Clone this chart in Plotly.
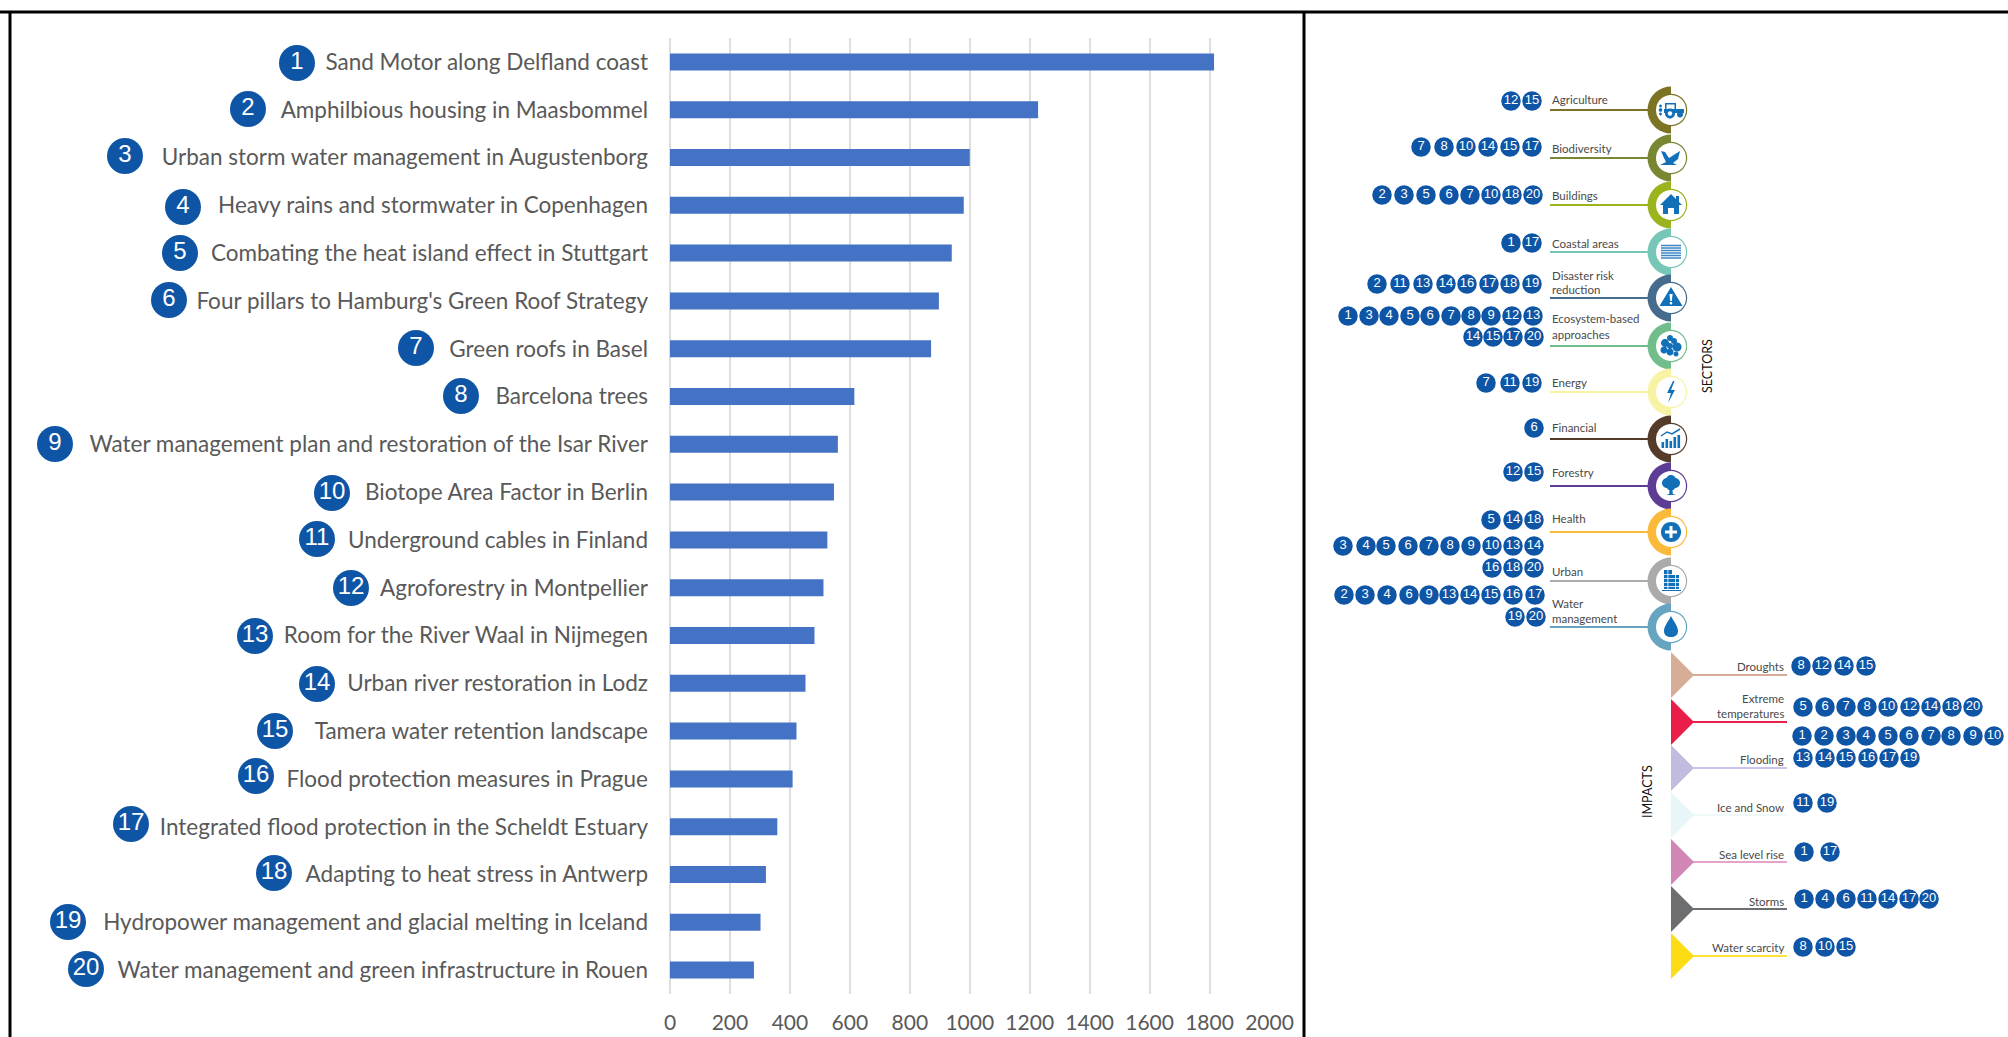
import numpy as np
import plotly.graph_objects as go

# ---------- data ----------
PROJECTS = [
    "Sand Motor along Delfland coast", "Amphilbious housing in Maasbommel",
    "Urban storm water management in Augustenborg", "Heavy rains and stormwater in Copenhagen",
    "Combating the heat island effect in Stuttgart", "Four pillars to Hamburg's Green Roof Strategy",
    "Green roofs in Basel", "Barcelona trees",
    "Water management plan and restoration of the Isar River", "Biotope Area Factor in Berlin",
    "Underground cables in Finland", "Agroforestry in Montpellier",
    "Room for the River Waal in Nijmegen", "Urban river restoration in Lodz",
    "Tamera water retention landscape", "Flood protection measures in Prague",
    "Integrated flood protection in the Scheldt Estuary", "Adapting to heat stress in Antwerp",
    "Hydropower management and glacial melting in Iceland",
    "Water management and green infrastructure in Rouen",
]
VALUES = [1815, 1228, 1000, 980, 940, 897, 871, 615, 560, 547, 525, 512, 482, 452, 422, 409, 358, 320, 302, 280]
X_TICKS = list(range(0, 2001, 200))

SECTORS = ["Agriculture", "Biodiversity", "Buildings", "Coastal areas", "Disaster risk reduction",
           "Ecosystem-based approaches", "Energy", "Financial", "Forestry", "Health", "Urban", "Water management"]
SECTOR_ROWS = [
    [[12, 15]], [[7, 8, 10, 14, 15, 17]], [[2, 3, 5, 6, 7, 10, 18, 20]], [[1, 17]],
    [[2, 11, 13, 14, 16, 17, 18, 19]],
    [[1, 3, 4, 5, 6, 7, 8, 9, 12, 13], [14, 15, 17, 20]],
    [[7, 11, 19]], [[6]], [[12, 15]], [[5, 14, 18]],
    [[3, 4, 5, 6, 7, 8, 9, 10, 13, 14], [16, 18, 20]],
    [[2, 3, 4, 6, 9, 13, 14, 15, 16, 17], [19, 20]],
]
IMPACTS = ["Droughts", "Extreme temperatures", "Flooding", "Ice and Snow", "Sea level rise", "Storms", "Water scarcity"]
IMPACT_ROWS = [
    [[8, 12, 14, 15]], [[5, 6, 7, 8, 10, 12, 14, 18, 20]],
    [[1, 2, 3, 4, 5, 6, 7, 8, 9, 10], [13, 14, 15, 16, 17, 19]],
    [[11, 19]], [[1, 17]], [[1, 4, 6, 11, 14, 17, 20]], [[8, 10, 15]],
]

# ---------- layout (page pixels on the overlay axes) ----------
W, H = 2008, 1037
BLUE = "#0F55A6"
ICON = "#1170B8"
BADGE_X = [297, 248, 125, 183, 180, 169, 416, 461, 55, 332, 317, 351, 255, 317, 275, 256, 131, 274, 68, 86]
BADGE_Y = [63, 109, 156, 207, 253, 300, 348, 396, 444, 493, 539, 588, 636, 684, 731, 776, 824, 873, 922, 969]

SECTOR_Y = [110, 158, 205, 252, 298, 346, 392, 439, 486, 532, 581, 627]
SECTOR_COL = ["#7D7324", "#778732", "#9BB31D", "#76C7B7", "#456C8C", "#72BD8C", "#F8F3A4", "#553B2A",
              "#5C3C94", "#FBB93A", "#ABABAB", "#66A4BF"]
SECTOR_LABEL_LINES = [["Agriculture"], ["Biodiversity"], ["Buildings"], ["Coastal areas"],
                      ["Disaster risk", "reduction"], ["Ecosystem-based", "approaches"], ["Energy"], ["Financial"],
                      ["Forestry"], ["Health"], ["Urban"], ["Water", "management"]]
SECTOR_LABEL_Y = [[99], [148], [195], [243], [275, 289], [318, 334], [382], [427], [472], [518], [571], [603, 618]]
SECTOR_BADGE_Y = [[101], [147], [195], [243], [284], [316, 337], [383], [428], [472], [520], [546, 568], [595, 617]]
SECTOR_BADGE_X = [
    [[1511, 1532]], [[1421, 1444, 1466, 1488, 1510, 1532]],
    [[1382, 1404, 1426, 1449, 1470, 1491, 1512, 1533]], [[1511, 1532]],
    [[1377, 1400, 1423, 1446, 1467, 1489, 1510, 1532]],
    [[1348, 1369, 1389, 1410, 1430, 1451, 1471, 1491, 1512, 1533], [1473, 1493, 1513, 1534]],
    [[1486, 1510, 1532]], [[1534]], [[1513, 1534]], [[1491, 1513, 1534]],
    [[1343, 1366, 1386, 1408, 1429, 1450, 1471, 1492, 1513, 1534], [1492, 1513, 1534]],
    [[1344, 1365, 1387, 1409, 1429, 1449, 1470, 1491, 1513, 1535], [1515, 1536]],
]

IMPACT_Y = [675, 722, 768, 815, 862, 909, 956]
IMPACT_COL = ["#D8AD98", "#E91F49", "#BFBCE0", "#E8F5F9", "#D286B5", "#6C6E70", "#FCDD15"]
IMPACT_LINE_COL = ["#D8AD98", "#E91F49", "#C9C6EC", "#EEF8F8", "#E5A3CC", "#6C6E70", "#FCE33A"]
IMPACT_LABEL_LINES = [["Droughts"], ["Extreme", "temperatures"], ["Flooding"], ["Ice and Snow"], ["Sea level rise"],
                      ["Storms"], ["Water scarcity"]]
IMPACT_LABEL_Y = [[666], [698, 713], [759], [807], [854], [901], [947]]
IMPACT_BADGE_Y = [[666], [707], [736, 758], [803], [852], [899], [947]]
IMPACT_BADGE_X = [
    [[1801, 1822, 1844, 1866]], [[1803, 1825, 1846, 1867, 1888, 1910, 1931, 1952, 1973]],
    [[1802, 1824, 1846, 1866, 1888, 1909, 1931, 1951, 1973, 1994], [1803, 1825, 1846, 1868, 1889, 1910]],
    [[1803, 1827]], [[1804, 1830]], [[1804, 1825, 1846, 1867, 1888, 1909, 1929]], [[1803, 1825, 1846]],
]

fig = go.Figure()

# bars on real axes
fig.add_trace(go.Bar(y=PROJECTS, x=VALUES, orientation="h", width=0.355,
                     marker=dict(color="#4472C4", line=dict(width=0)), xaxis="x", yaxis="y", hoverinfo="skip"))

shapes, notes = [], []
REF = dict(xref="x2", yref="y2")


def poly(points, cx, cy, color, close=True):
    d = "M " + " L ".join(f"{cx + a:.2f},{cy + b:.2f}" for a, b in points) + (" Z" if close else "")
    shapes.append(dict(type="path", path=d, fillcolor=color if close else "rgba(0,0,0,0)",
                       line=dict(width=0 if close else 1.5, color=color), layer="below", **REF))


def disk(a, b, r, cx, cy, color, start=0.0, stop=360.0):
    t = np.radians(np.arange(start, stop + 1, 10))
    poly(list(zip(a + r * np.cos(t), b + r * np.sin(t))), cx, cy, color)


def rect(x0, y0, x1, y1, cx, cy, color):
    poly([(x0, y0), (x1, y0), (x1, y1), (x0, y1)], cx, cy, color)


def icon(kind, cx, cy):
    if kind == 0:  # tractor
        disk(-10.5, 0, 1.8, cx, cy, ICON); disk(-10.5, -4, 1.4, cx, cy, ICON); disk(-10.5, 4, 1.4, cx, cy, ICON)
        rect(-6, -7, 5, -5.5, cx, cy, ICON); rect(-6, -7, -4.5, 0, cx, cy, ICON); rect(3.5, -7, 5, 0, cx, cy, ICON)
        rect(-7, -1, 13, 3, cx, cy, ICON)
        disk(-1, 3.5, 5, cx, cy, ICON); disk(-1, 3.5, 2.2, cx, cy, "white"); disk(9, 4.5, 3, cx, cy, ICON)
    elif kind == 1:  # bird
        poly([(-10, -7), (-6, -6), (-2, 0), (9, -7), (7, 1), (2, 5), (6, 7), (-11, 7), (-5, 4), (-7, 0)], cx, cy, ICON)
    elif kind == 2:  # house
        rect(5, -9, 8, -3, cx, cy, ICON)
        poly([(0, -11), (11, 0), (8, 0), (8, 9), (3, 9), (3, 3), (-3, 3), (-3, 9), (-8, 9), (-8, 0), (-11, 0)], cx, cy, ICON)
    elif kind == 3:  # waves
        for b in (-6.5, -4, -1.5, 1, 3.5, 6):
            poly([(-10, b), (10, b)], cx, cy, "#3C86C6", close=False)
    elif kind == 4:  # warning
        poly([(0, -11), (11.5, 8), (-11.5, 8)], cx, cy, ICON)
        poly([(-1.6, -4), (1.6, -4), (0.8, 3), (-0.8, 3)], cx, cy, "white"); disk(0, 5.2, 1.3, cx, cy, "white")
    elif kind == 5:  # ecosystem
        for a, b, r in [(-6, -3, 4), (-1, -8, 3), (3, -5, 3), (6, 1, 4.5), (-7, 4, 3.5), (-1, 6, 3.5), (5, 8, 2.5), (-1, 0, 3)]:
            disk(a, b, r, cx, cy, ICON)
    elif kind == 6:  # bolt
        poly([(2, -11), (-4, 1), (0, 1), (-3, 11), (4, -2), (0, -2), (3.5, -11)], cx, cy, ICON)
    elif kind == 7:  # finance
        for a, b in [(-9.5, 3), (-5.5, 0), (-1.5, 2), (2.5, -2), (6.5, -4)]:
            rect(a, b, a + 2.6, 9, cx, cy, ICON)
        poly([(-10, -3), (-4, -7), (1, -5), (9, -10)], cx, cy, ICON, close=False)
    elif kind == 8:  # tree
        for a, b, r in [(-4, -3, 5), (4, -3, 5), (0, -6, 5), (0, 0, 4.5)]:
            disk(a, b, r, cx, cy, ICON)
        poly([(-1.3, 2), (1.3, 2), (1.8, 8), (5, 9), (-5, 9), (-1.8, 8)], cx, cy, ICON)
    elif kind == 9:  # plus
        disk(0, 0, 10, cx, cy, ICON)
        rect(-6, -1.5, 6, 1.5, cx, cy, "white"); rect(-1.5, -6, 1.5, 6, cx, cy, "white")
    elif kind == 10:  # urban
        rect(-7, -11, 1, 8, cx, cy, ICON); rect(1, -6, 8, 8, cx, cy, ICON); rect(-9, 9, 10, 10, cx, cy, ICON)
        for b in (-7, -3, 1, 5):
            rect(-7, b, 8, b + 0.8, cx, cy, "white")
        rect(-3.5, -11, -2.7, 8, cx, cy, "white"); rect(4, -6, 4.8, 8, cx, cy, "white")
    else:  # drop
        d = (f"M {cx},{cy-11} C {cx+3},{cy-5} {cx+7},{cy-1} {cx+7},{cy+4} "
             f"C {cx+7},{cy+8} {cx+4},{cy+10} {cx},{cy+10} C {cx-4},{cy+10} {cx-7},{cy+8} {cx-7},{cy+4} "
             f"C {cx-7},{cy-1} {cx-3},{cy-5} {cx},{cy-11} Z")
        shapes.append(dict(type="path", path=d, fillcolor=ICON, line=dict(width=0), layer="below", **REF))


def hline(x0, x1, y, color, width=2):
    shapes.append(dict(type="line", x0=x0, x1=x1, y0=y, y1=y, line=dict(color=color, width=width), layer="below", **REF))


def note(x, y, text, anchor="left", size=11.5, color="#4A4A4A", angle=0):
    notes.append(dict(x=x, y=y, text=text, xanchor=anchor, yanchor="middle", showarrow=False, textangle=angle,
                      font=dict(family="Lato", size=size, color=color), **REF))


# sectors
CX = 1671
for i, col in enumerate(SECTOR_COL):
    y = SECTOR_Y[i]
    hline(1550, CX - 20, y, col)
    disk(0, 0, 23.5, CX, y, col, 90, 270)
    disk(0, 0, 16.2, CX, y, col)
    disk(0, 0, 15, CX, y, "white")
    icon(i, CX, y)
    for line, ly in zip(SECTOR_LABEL_LINES[i], SECTOR_LABEL_Y[i]):
        note(1550, ly, line)
note(1707, 366, "SECTORS", anchor="center", size=12.5, color="#111111", angle=-90)

# impacts
for i, col in enumerate(IMPACT_COL):
    y = IMPACT_Y[i]
    hline(CX + 20, 1787, y, IMPACT_LINE_COL[i])
    poly([(0, -23), (23, 0), (0, 23)], CX, y, col)
    for line, ly in zip(IMPACT_LABEL_LINES[i], IMPACT_LABEL_Y[i]):
        note(1786, ly, line, anchor="right")
note(1647, 792, "IMPACTS", anchor="center", size=12.5, color="#111111", angle=-90)

# frame
for x0, y0, x1, y1 in [(0, 12, W, 12), (10, 12, 10, H), (1304, 12, 1304, H)]:
    shapes.append(dict(type="line", x0=x0, x1=x1, y0=y0, y1=y1, line=dict(color="black", width=3), layer="below", **REF))


def badges(xs, ys, nums, size, fsize):
    fig.add_trace(go.Scatter(x=xs, y=ys, text=[str(n) for n in nums], mode="markers+text", xaxis="x2", yaxis="y2",
                             marker=dict(color=BLUE, size=size, line=dict(width=0)), textposition="middle center",
                             textfont=dict(family="Liberation Sans", size=fsize, color="white"),
                             hoverinfo="skip", cliponaxis=False))


badges(BADGE_X, BADGE_Y, list(range(1, 21)), 36, 24)
rx, ry, rn = [], [], []
for rows_n, rows_x, rows_y in list(zip(SECTOR_ROWS, SECTOR_BADGE_X, SECTOR_BADGE_Y)) + list(zip(IMPACT_ROWS, IMPACT_BADGE_X, IMPACT_BADGE_Y)):
    for ns, xs, y in zip(rows_n, rows_x, rows_y):
        rx += xs; ry += [y] * len(xs); rn += ns
badges(rx, ry, rn, 19.5, 13)

fig.update_layout(
    width=W, height=H, margin=dict(l=0, r=0, t=0, b=0), autosize=False, showlegend=False,
    paper_bgcolor="white", plot_bgcolor="rgba(0,0,0,0)", hovermode=False, shapes=shapes, annotations=notes,
    xaxis=dict(domain=[670 / W, 1269.5 / W], range=[0, 2000], tickvals=X_TICKS, showgrid=True, gridcolor="#DEDEDE",
               gridwidth=2, zeroline=True, zerolinecolor="#DEDEDE", zerolinewidth=2, showline=False, ticks="",
               ticklabelstandoff=14, automargin=False, tickfont=dict(family="Lato", size=21, color="#595959"), anchor="y"),
    yaxis=dict(domain=[1 - 994 / H, 1 - 38 / H], type="category", categoryorder="array", categoryarray=PROJECTS,
               range=[19.5, -0.5], showgrid=False, zeroline=False, showline=False, ticks="", ticklabelstandoff=21,
               automargin=False, tickfont=dict(family="Lato", size=22.5, color="#595959"), anchor="x"),
    xaxis2=dict(domain=[0, 1], range=[0, W], visible=False, anchor="y2", fixedrange=True, automargin=False),
    yaxis2=dict(domain=[0, 1], range=[H, 0], visible=False, anchor="x2", fixedrange=True, automargin=False),
)

fig.write_html("out.html", config=dict(displayModeBar=False),
               post_script="document.body.style.margin='0';document.body.style.overflow='hidden';")
